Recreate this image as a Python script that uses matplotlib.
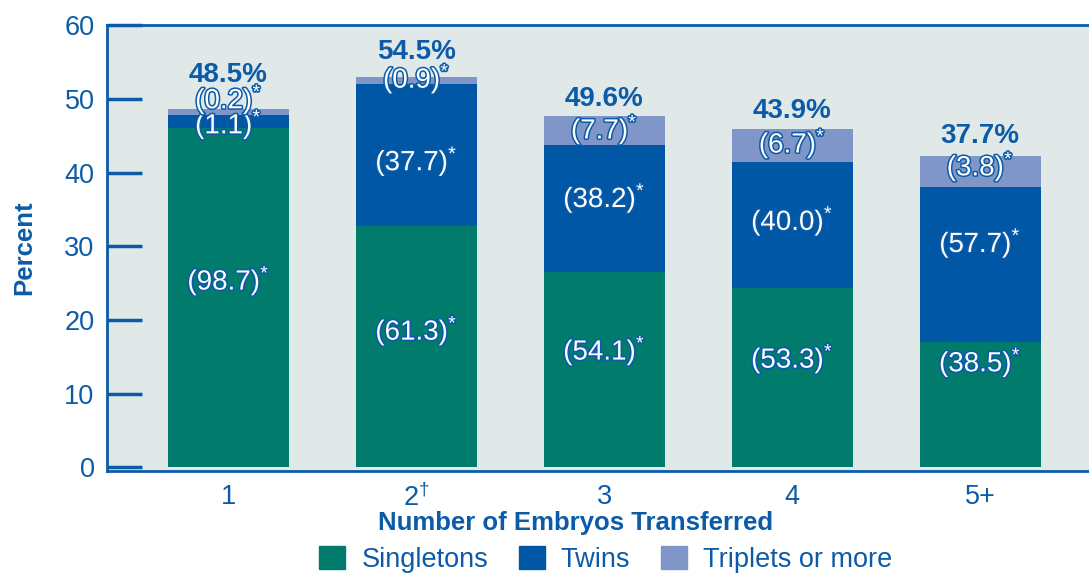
import numpy as np
import matplotlib.pyplot as plt
import matplotlib.patheffects as pe
from matplotlib.patches import Patch

plt.rcParams['font.family'] = ['Liberation Sans', 'DejaVu Sans']
plt.rcParams['mathtext.fontset'] = 'custom'
plt.rcParams['mathtext.rm'] = 'Liberation Sans'
plt.rcParams['mathtext.it'] = 'Liberation Sans'
plt.rcParams['mathtext.default'] = 'regular'

# embryos transferred
groups = ['1', '2$^{†}$', '3', '4', '5+']

# bar segment heights (percent)
singletons = [46.1, 32.7, 26.5, 24.3, 17.0]
twins = [1.75, 19.3, 17.3, 17.2, 21.0]
triplets = [0.8, 1.0, 3.9, 4.4, 4.2]

# percent of births in each group
pct_single = ['98.7', '61.3', '54.1', '53.3', '38.5']
pct_twins = ['1.1', '37.7', '38.2', '40.0', '57.7']
pct_trip = ['0.2', '0.9', '7.7', '6.7', '3.8']
live_birth = ['48.5%', '54.5%', '49.6%', '43.9%', '37.7%']

# label heights
y_single = [25.3, 18.5, 15.8, 14.7, 14.2]
y_twins = [46.5, 41.5, 36.5, 33.4, 30.4]
y_trip = [49.9, 52.7, 45.8, 43.9, 40.8]
y_total = [53.2, 56.4, 50.0, 48.4, 45.0]

teal = '#007B6C'
blue = '#0057A6'
light = '#8096C8'
txt = '#0B5BA8'
bg = '#E0E9E8'

fig = plt.figure(figsize=(10.89, 5.73), dpi=100)
ax = fig.add_axes([0.0983, 0.178, 0.9017, 0.778])
ax.set_facecolor(bg)

x = np.arange(len(groups))
w = 0.644
ax.bar(x, singletons, w, color=teal, label='Singletons')
ax.bar(x, twins, w, bottom=singletons, color=blue, label='Twins')
ax.bar(x, triplets, w, bottom=np.array(singletons) + np.array(twins),
       color=light, label='Triplets or more')

outline = [pe.Stroke(linewidth=2.2, foreground=txt), pe.Normal()]
for i in range(len(groups)):
    for lab, yy in [(pct_single[i], y_single[i]), (pct_twins[i], y_twins[i]),
                    (pct_trip[i], y_trip[i])]:
        ax.text(x[i], yy, '(' + lab + ')$^{*}$', ha='center', va='center',
                fontsize=20, color='white', path_effects=outline)
    ax.text(x[i], y_total[i], live_birth[i], ha='center', va='center',
            fontsize=20, fontweight='bold', color=txt)

ax.set_xlim(-0.646, 4.58)
ax.set_ylim(-0.5, 59.75)
ax.set_yticks(range(0, 61, 10))
ax.set_xticks(x)
ax.set_xticklabels(groups)
ax.tick_params(axis='y', direction='in', length=25, width=2.5, color=txt,
               labelcolor=txt, labelsize=19.5, pad=9)
ax.tick_params(axis='x', length=0, labelcolor=txt, labelsize=19.5, pad=9)

for s in ['left', 'top', 'bottom']:
    ax.spines[s].set_color(txt)
    ax.spines[s].set_linewidth(2)
ax.spines['right'].set_visible(False)

ax.set_ylabel('Percent', fontsize=18.5, fontweight='bold', color=txt)
ax.yaxis.label.set_va('center')
ax.yaxis.set_label_coords(-0.084, 0.5)
ax.set_xlabel('Number of Embryos Transferred', fontsize=18.5,
              fontweight='bold', color=txt)
ax.xaxis.set_label_coords(0.477, -0.089)

handles = [Patch(color=teal, label='Singletons'),
           Patch(color=blue, label='Twins'),
           Patch(color=light, label='Triplets or more')]
leg = ax.legend(handles=handles, loc='center',
                bbox_to_anchor=(0.508, -0.198), ncol=3, frameon=False,
                fontsize=19.5, handlelength=0.96, handleheight=0.96,
                columnspacing=1.14, handletextpad=0.59)
for t in leg.get_texts():
    t.set_color(txt)

fig.savefig('out.png', dpi=100)
